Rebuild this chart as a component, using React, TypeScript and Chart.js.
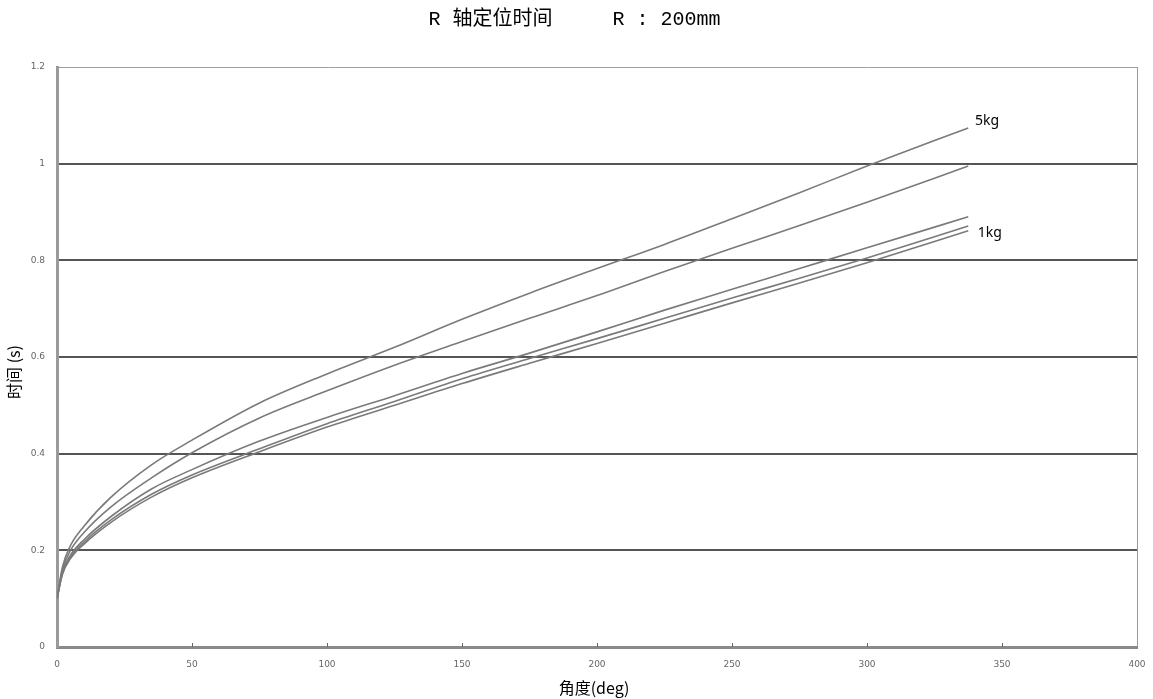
import React, { useEffect, useRef } from "react";
import { Chart, registerables } from "chart.js";

Chart.register(...registerables);

const titleText = " R 轴定位时间     R : 200mm";
const xTitle = "角度(deg)";
const yTitle = "时间 (s)";

const angles = [0, 2, 5, 10, 20, 35, 50, 75, 100, 125, 150, 175, 200, 225, 250, 275, 300, 337.5];
const time5kg = [0.10, 0.165, 0.21, 0.25, 0.31, 0.377, 0.428, 0.505, 0.565, 0.62, 0.678, 0.732, 0.783, 0.833, 0.886, 0.94, 0.995, 1.074];
const time4kg = [0.10, 0.16, 0.20, 0.237, 0.29, 0.35, 0.402, 0.474, 0.53, 0.583, 0.632, 0.68, 0.727, 0.777, 0.825, 0.872, 0.92, 0.995];
const time3kg = [0.10, 0.155, 0.19, 0.222, 0.27, 0.327, 0.367, 0.426, 0.475, 0.52, 0.566, 0.608, 0.652, 0.697, 0.74, 0.783, 0.826, 0.89];
const time2kg = [0.10, 0.152, 0.186, 0.217, 0.263, 0.316, 0.356, 0.41, 0.462, 0.508, 0.555, 0.597, 0.638, 0.68, 0.722, 0.763, 0.805, 0.871];
const time1kg = [0.10, 0.15, 0.183, 0.213, 0.258, 0.31, 0.35, 0.404, 0.455, 0.50, 0.545, 0.587, 0.628, 0.67, 0.712, 0.753, 0.795, 0.861];

const seriesNames = ["5kg", "4kg", "3kg", "2kg", "1kg"];
const seriesValues = [time5kg, time4kg, time3kg, time2kg, time1kg];

const noteTexts = ["5kg", "1kg"];
const noteAngles = [340, 341];
const noteTimes = [1.088, 0.857];

const xTickValues = [50, 100, 150, 200, 250, 300, 350];

const annotatePlugin = {
  id: "annotate",
  afterDraw(chart: any) {
    const ctx = chart.ctx;
    const xs = chart.scales.x;
    const ys = chart.scales.y;
    ctx.save();
    ctx.strokeStyle = "#666";
    ctx.lineWidth = 1;
    xTickValues.forEach((v) => {
      const px = Math.round(xs.getPixelForValue(v)) + 0.5;
      ctx.beginPath();
      ctx.moveTo(px, ys.bottom);
      ctx.lineTo(px, ys.bottom - 4);
      ctx.stroke();
    });
    ctx.fillStyle = "#000";
    ctx.font = "14px 'Noto Sans', sans-serif";
    ctx.textAlign = "left";
    ctx.textBaseline = "middle";
    noteTexts.forEach((t, i) => {
      ctx.fillText(t, xs.getPixelForValue(noteAngles[i]), ys.getPixelForValue(noteTimes[i]));
    });
    ctx.font = "16px 'Noto Sans CJK SC', sans-serif";
    ctx.textAlign = "center";
    ctx.fillText(xTitle, (xs.left + xs.right) / 2 - 3, 688);
    ctx.translate(14, (ys.top + ys.bottom) / 2 + 15);
    ctx.rotate(-Math.PI / 2);
    ctx.fillText(yTitle, 0, 0);
    ctx.restore();
  },
};

export default function App() {
  const ref = useRef<HTMLCanvasElement | null>(null);
  useEffect(() => {
    if (!ref.current) return;
    const chart = new Chart(ref.current, {
      type: "line",
      data: {
        datasets: seriesNames.map((name, i) => ({
          label: name,
          data: angles.map((a, j) => ({ x: a, y: seriesValues[i][j] })),
          borderColor: "#7a7a7a",
          borderWidth: 1.6,
          pointRadius: 0,
          fill: false,
          cubicInterpolationMode: "monotone" as const,
        })),
      },
      options: {
        animation: false,
        responsive: false,
        maintainAspectRatio: false,
        layout: { padding: { left: 0, right: 16, top: 0, bottom: 0 } },
        plugins: {
          legend: { display: false },
          tooltip: { enabled: false },
          title: {
            display: true,
            text: titleText,
            color: "#000",
            font: { family: "'Liberation Mono', 'Noto Sans CJK SC', monospace", size: 20, weight: "normal" },
            padding: { top: 8, bottom: 35 },
          },
        },
        scales: {
          x: {
            type: "linear",
            min: 0,
            max: 400,
            afterFit: (s: any) => { s.height = 52; s.paddingLeft = 0; s.paddingRight = 0; },
            ticks: {
              stepSize: 50,
              color: "#666",
              font: { size: 9, family: "'DejaVu Sans', sans-serif" },
              padding: 12,
              maxRotation: 0,
            },
            grid: {
              drawTicks: false,
              color: (c: any) => (c.tick && c.tick.value === 400 ? "#9a9a9a" : "rgba(0,0,0,0)"),
              lineWidth: 1,
            },
            border: { color: "#8a8a8a", width: 3 },
          },
          y: {
            min: 0,
            max: 1.2,
            afterFit: (s: any) => { s.width = 57; },
            ticks: {
              stepSize: 0.2,
              color: "#666",
              font: { size: 9, family: "'DejaVu Sans', sans-serif" },
              padding: 12,
              callback: (v: any) => String(Math.round(Number(v) * 10) / 10),
            },
            grid: {
              drawTicks: false,
              color: (c: any) => {
                const v = c.tick ? Math.round(c.tick.value * 10) / 10 : 0;
                if (v === 0) return "rgba(0,0,0,0)";
                if (v === 1.2) return "#a0a0a0";
                return "#555";
              },
              lineWidth: (c: any) => {
                const v = c.tick ? Math.round(c.tick.value * 10) / 10 : 0;
                return v === 1.2 ? 1 : 2;
              },
            },
            border: { color: "#9a9a9a", width: 3 },
          },
        },
      },
      plugins: [annotatePlugin],
    });
    return () => chart.destroy();
  }, []);
  return (
    <div style={{ position: "absolute", left: 0, top: 0, width: 1153, height: 699, background: "#fff" }}>
      <canvas ref={ref} width={1153} height={699} style={{ width: 1153, height: 699 }} />
    </div>
  );
}
